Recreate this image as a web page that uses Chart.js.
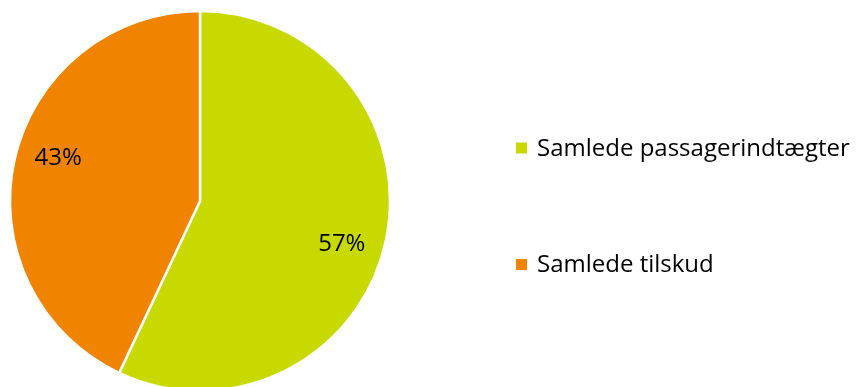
<!DOCTYPE html>
<html>
<head>
<meta charset="utf-8">
<script src="https://cdn.jsdelivr.net/npm/chart.js@4/dist/chart.umd.min.js"></script>
<style>
  html, body { margin: 0; padding: 0; background: #ffffff; overflow: hidden; }
  #wrap { position: relative; width: 859px; height: 387px; }
</style>
</head>
<body>
<div id="wrap"><canvas id="c" width="859" height="387"></canvas></div>
<script>
// Revenue split: passenger income vs. subsidies (percent)
const categories = ['Samlede passagerindtægter', 'Samlede tilskud'];
const shares = [57, 43];
const sliceColors = ['#C8D900', '#F08300'];

const FONT = '"Open Sans", "Liberation Sans", sans-serif';
const FONT_SIZE = 24;

// Percentage labels placed inside each slice along its middle angle
const sliceLabels = {
  id: 'sliceLabels',
  afterDatasetsDraw(chart) {
    const { ctx } = chart;
    const meta = chart.getDatasetMeta(0);
    const values = chart.data.datasets[0].data;
    const total = values.reduce((a, b) => a + b, 0);
    ctx.save();
    ctx.font = FONT_SIZE + 'px ' + FONT;
    ctx.fillStyle = '#000000';
    ctx.textAlign = 'center';
    ctx.textBaseline = 'middle';
    meta.data.forEach((arc, i) => {
      const p = arc.getProps(['x', 'y', 'startAngle', 'endAngle', 'outerRadius'], true);
      const mid = (p.startAngle + p.endAngle) / 2 + 0.075;
      const r = p.outerRadius * 0.78;
      const x = p.x + Math.cos(mid) * r;
      const y = p.y + Math.sin(mid) * r;
      ctx.fillText(Math.round(values[i] / total * 100) + '%', x, y);
    });
    ctx.restore();
  }
};

// Legend drawn to the right of the pie: square swatch + category name
const sideLegend = {
  id: 'sideLegend',
  afterDraw(chart) {
    const { ctx } = chart;
    const ds = chart.data.datasets[0];
    const left = 516, box = 11, firstY = 148, step = 116.5, gap = 10;
    ctx.save();
    ctx.font = FONT_SIZE + 'px ' + FONT;
    ctx.textAlign = 'left';
    ctx.textBaseline = 'middle';
    chart.data.labels.forEach((label, i) => {
      const cy = firstY + i * step;
      ctx.fillStyle = ds.backgroundColor[i];
      ctx.fillRect(left, cy - box / 2, box, box);
      ctx.fillStyle = '#000000';
      ctx.fillText(label, left + box + gap, cy + 1);
    });
    ctx.restore();
  }
};

new Chart(document.getElementById('c'), {
  type: 'pie',
  data: {
    labels: categories,
    datasets: [{
      data: shares,
      backgroundColor: sliceColors,
      borderColor: '#ffffff',
      borderWidth: 2.5,
      hoverOffset: 0,
      clip: false
    }]
  },
  options: {
    responsive: false,
    animation: false,
    radius: 190,
    layout: { padding: { left: 10, right: 469, top: 15, bottom: 0 } },
    plugins: {
      legend: { display: false },
      tooltip: { enabled: false }
    },
    events: []
  },
  plugins: [sliceLabels, sideLegend]
});
</script>
</body>
</html>
